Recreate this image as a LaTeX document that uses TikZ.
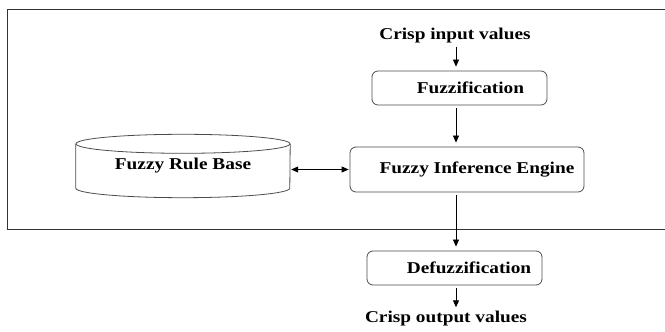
\documentclass[tikz,border=0pt]{standalone}
\usepackage{fontspec}
\usepackage{tikz}
\usetikzlibrary{arrows.meta}
\usetikzlibrary{positioning}
\newfontfamily\figfont[FakeStretch=1.17]{Liberation Serif}

\begin{document}
\begin{tikzpicture}
		[x=1pt,y=1pt,font=\figfont\bfseries\fontsize{16.5}{19}\selectfont,
		every node/.style={inner sep=0pt},
		stage/.style={draw=black!70,rounded corners=6pt,line width=0.8pt},
		flow/.style={-{Triangle[length=7pt,width=6pt]},line width=0.8pt,shorten >=4pt,shorten <=3pt}]
		\useasboundingbox (0,0) rectangle (665,332);
		\draw[black!80,line width=0.9pt] (7.6,322.7) rectangle (670,103);
		
		\node (input) at (455,296) {Crisp input values};
		\node[stage,minimum width=175pt,minimum height=34pt] (fuzz) at (459.5,244) {\hspace*{22pt}Fuzzification};
		\node[stage,minimum width=234pt,minimum height=45pt] (fie) at (467,162.5) {\hspace*{20pt}Fuzzy Inference Engine};
		\node[minimum width=214pt,minimum height=44pt] (rules) at (183,166) {Fuzzy Rule Base};
		\node[stage,minimum width=175pt,minimum height=34pt] (defuzz) at (454.5,64) {\hspace*{29pt}Defuzzification};
		\node (output) at (446,13) {Crisp output values};
		\coordinate (axis) at (456,0);
		
		% cylinder round the rule base
		\draw[black!70,line width=0.8pt] (rules.north) ellipse (107 and 9.5);
		\draw[black!70,line width=0.8pt] (rules.north west) -- (rules.south west) arc (180:360:107 and 9.5) -- (rules.north east);
		
		\foreach \from/\to in 
		{input.south/fuzz.north, fuzz.south/fie.north, fie.south/defuzz.north, defuzz.south/output.north}
		\draw[flow] (axis |- \from) -- (axis |- \to);
		\draw[{Triangle[length=7pt,width=6pt]}-{Triangle[length=7pt,width=6pt]},line width=0.8pt,shorten >=1pt,shorten <=1pt] (fie.west) -- (fie.west -| rules.east);
		\end{tikzpicture}
\end{document}
